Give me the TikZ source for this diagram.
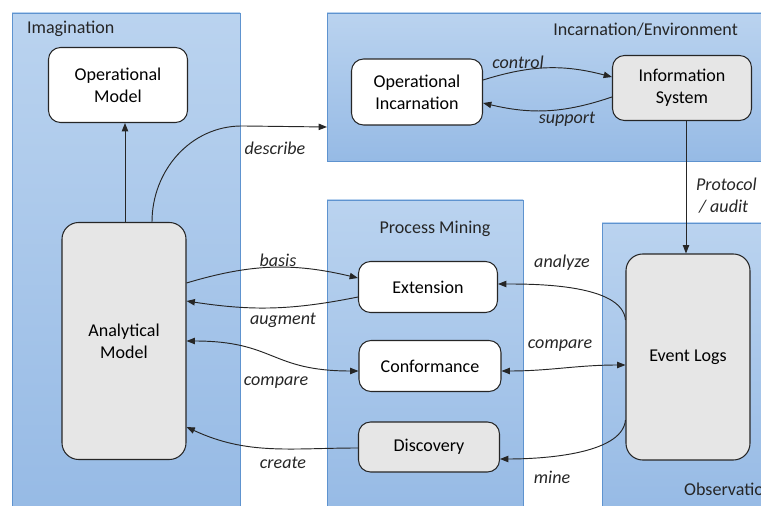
\documentclass[tikz,border=0pt]{standalone}
\usepackage{fontspec}
\setmainfont{Carlito}
\usepackage{tikz}
\usetikzlibrary{arrows.meta,positioning}
\definecolor{ptop}{HTML}{BAD3EF}
\definecolor{pbot}{HTML}{96BAE5}
\definecolor{pedge}{HTML}{5E93CF}
\definecolor{gfill}{HTML}{E6E6E6}
\definecolor{cink}{HTML}{262626}
\newcommand{\figfont}{\fontsize{15.4}{18.8}\selectfont}
\tikzset{>={Triangle[length=2.5mm,width=1.9mm]}}
\tikzset{
  panel/.style={draw=pedge,line width=0.7pt,top color=ptop,bottom color=pbot},
  box/.style={draw=cink,line width=0.9pt,rounded corners=0.36cm,fill=white,align=center,inner sep=0pt},
  graybox/.style={box,fill=gfill},
  link/.style={->,line width=0.8pt,draw=cink},
  lbl/.style={font=\figfont\itshape,text=cink}
}

\begin{document}
\begin{tikzpicture}[font=\figfont]
\useasboundingbox (0,0) rectangle (22.83,15.15);
\clip (0,0) rectangle (22.83,15.15);

% ============ panels ============
\draw[panel] (0.36,-0.3) rectangle (7.2,14.76);
\draw[panel] (9.81,10.32) rectangle (23.3,14.76);
\draw[panel] (9.81,-0.3) rectangle (15.69,9.15);
\draw[panel] (18.06,-0.3) rectangle (23.3,8.46);
\coordinate (descend) at (9.81,11.34);

\node[anchor=west,text=cink] (imaglbl) at (0.69,14.28) {Imagination};
\node[anchor=east,text=cink] (incarnlbl) at (22.26,14.25) {Incarnation/Environment};
\node[text=cink] (pmlbl) at (13.05,8.28) {Process Mining};
\node[anchor=west,text=cink] (obslbl) at (20.4,0.48) {Observation};

% ============ boxes ============
\node[box,minimum width=4.17cm,minimum height=2.25cm] (opmodel) at (3.54,12.6) {Operational\\Model};
\node[graybox,minimum width=3.72cm,minimum height=7.11cm,rounded corners=0.5cm] (anamodel) at (3.72,4.92) {Analytical\\Model};
\node[box,minimum width=3.93cm,minimum height=1.98cm] (opinc) at (12.51,12.39) {Operational\\Incarnation};
\node[graybox,minimum width=4.17cm,minimum height=1.95cm] (infosys) at (20.46,12.51) {Information\\System};
\node[box,minimum width=4.17cm,minimum height=1.53cm] (ext) at (12.84,6.54) {Extension};
\node[box,minimum width=4.26cm,minimum height=1.53cm] (conf) at (12.9,4.17) {Conformance};
\node[graybox,minimum width=4.23cm,minimum height=1.5cm] (disc) at (12.87,1.74) {Discovery};
\node[graybox,minimum width=3.72cm,minimum height=6.18cm,rounded corners=0.5cm] (evlogs) at (20.64,4.44) {Event Logs};

% ============ connectors ============
\draw[link] ([xshift=0.03cm]anamodel.north) -- ([xshift=0.03cm]anamodel.north |- opmodel.south);
\draw[link] ([xshift=0.84cm]anamodel.north) to[out=90,in=180] ++(2.7,2.88) -- (descend);
\draw[link] ([yshift=0.36cm]opinc.east) to[bend left=16] ([yshift=0.33cm]infosys.west);
\draw[link] ([yshift=-0.27cm]infosys.west) to[bend left=16] ([yshift=-0.33cm]opinc.east);
\draw[link] ([xshift=0.12cm]infosys.south) -- ([xshift=0.12cm]infosys.south |- evlogs.north);
\draw[link] ([yshift=1.74cm]anamodel.east) to[bend left=15] ([yshift=0.27cm]ext.west);
\draw[link] ([yshift=-0.3cm]ext.west) to[bend left=10] ([yshift=1.2cm]anamodel.east);
\draw[link,<->] (anamodel.east) to[out=0,in=180,looseness=1.3] ([yshift=-0.15cm]conf.west);
\draw[link] ([yshift=-0.03cm]disc.west) to[out=180,in=-25] ([yshift=-2.58cm]anamodel.east);
\draw[link] ([yshift=1.11cm]evlogs.west) to[out=95,in=0,looseness=0.7] ([yshift=0.09cm]ext.east);
\draw[link,<->] ([yshift=-0.15cm]conf.east) to[out=0,in=180] ([yshift=-0.24cm]evlogs.west);
\draw[link] ([yshift=-1.89cm]evlogs.west) to[out=-95,in=0,looseness=0.7] ([yshift=-0.36cm]disc.east);

% ============ connector labels ============
\node[lbl] (describelbl) at (8.25,10.71) {describe};
\node[lbl] (controllbl) at (15.54,13.29) {control};
\node[lbl] (supportlbl) at (17.01,11.58) {support};
\node[lbl,anchor=west,align=left] (protocollbl) at (20.76,9.27) {Protocol\\\hspace*{0.09cm}/ audit};
\node[lbl] (basislbl) at (8.34,7.35) {basis};
\node[lbl] (augmentlbl) at (8.49,5.55) {augment};
\node[lbl] (comparellbl) at (8.28,3.66) {compare};
\node[lbl] (createlbl) at (8.49,1.26) {create};
\node[lbl] (analyzelbl) at (16.86,7.26) {analyze};
\node[lbl] (comparerlbl) at (16.8,4.77) {compare};
\node[lbl] (minelbl) at (16.56,0.84) {mine};

\end{tikzpicture}
\end{document}
